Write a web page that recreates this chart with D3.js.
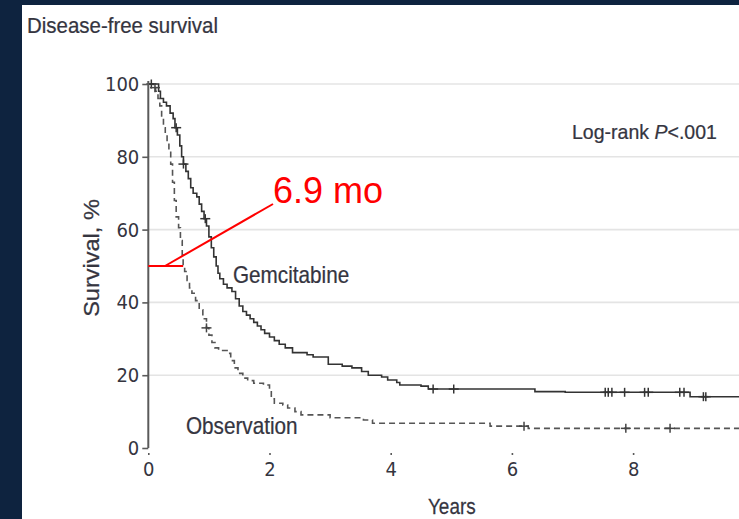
<!DOCTYPE html>
<html>
<head>
<meta charset="utf-8">
<script src="https://cdn.jsdelivr.net/npm/d3@7"></script>
<style>
  html, body { margin: 0; padding: 0; background: #0e233f; }
  svg { display: block; }
</style>
</head>
<body>
<svg id="chart" width="739" height="519"></svg>
<script>
// Kaplan-Meier disease-free survival, gemcitabine vs observation
const gemTimes = [0, 0.17, 0.2, 0.25, 0.3, 0.36, 0.41, 0.44, 0.48, 0.52, 0.55, 0.58, 0.62, 0.66, 0.7, 0.74, 0.8, 0.84, 0.88, 0.92, 0.96, 1.0, 1.04, 1.08, 1.12, 1.15, 1.18, 1.24, 1.3, 1.38, 1.44, 1.5, 1.56, 1.62, 1.68, 1.74, 1.8, 1.86, 1.92, 2.0, 2.08, 2.16, 2.26, 2.38, 2.62, 2.72, 2.97, 3.2, 3.36, 3.52, 3.63, 3.85, 3.95, 4.1, 4.15, 4.5, 4.62, 6.38, 6.88, 8.94];
const gemSurv  = [100, 98, 96, 95, 94, 92, 90.5, 88, 86, 83, 80, 78, 76, 74, 71.5, 70, 69, 67, 65, 63, 61, 58, 55, 52.5, 50, 48, 46.5, 45, 44, 43, 41, 39, 37.5, 36.5, 35.5, 34.5, 33.5, 32.5, 31.5, 30.5, 29.5, 28.5, 27.5, 26.2, 25.6, 25, 23, 22.5, 22, 21, 20, 19.5, 18.7, 18, 17.3, 17, 16.2, 15.5, 15.3, 14.1];
const gemCensored = [0.05, 0.46, 0.58, 0.94, 4.70, 5.04, 7.54, 7.59, 7.65, 7.86, 8.19, 8.25, 8.77, 8.84, 9.16, 9.20];

const obsTimes = [0, 0.08, 0.12, 0.16, 0.19, 0.22, 0.25, 0.28, 0.31, 0.34, 0.37, 0.4, 0.43, 0.46, 0.5, 0.53, 0.56, 0.575, 0.6, 0.64, 0.68, 0.72, 0.78, 0.84, 0.9, 0.96, 1.0, 1.05, 1.1, 1.16, 1.3, 1.36, 1.42, 1.48, 1.56, 1.64, 1.74, 1.9, 2.0, 2.03, 2.08, 2.22, 2.3, 2.42, 2.52, 3.0, 3.55, 3.7, 5.64, 6.27];
const obsSurv  = [100, 99, 98, 96, 94, 91, 88, 86, 84, 82, 78, 73, 68, 63.5, 60.5, 57, 53, 50, 48.5, 46, 44, 42.5, 40.5, 38, 35.5, 33, 31, 29, 27.5, 26.8, 26, 24, 22, 20.5, 19.2, 18.5, 17.8, 17.3, 16, 13.5, 12.3, 11.8, 11, 10, 9.1, 8.3, 7.7, 6.8, 6.0, 5.4];
const obsCensored = [0.11, 0.96, 6.2, 7.88, 8.61];

const xTicks = [0, 2, 4, 6, 8];
const yTicks = [0, 20, 40, 60, 80, 100];
const medianObsYears = 6.9 / 12;   // 6.9 months
const medianLabel = "6.9 mo";

const svg = d3.select("#chart");
const W = 739, H = 519;
const textColor = "#35353f";
const sans = "'Liberation Sans', Arial, sans-serif";
const cond = "'DejaVu Sans Condensed', 'DejaVu Sans', sans-serif";

// white panel
svg.append("rect").attr("x", 22).attr("y", 5).attr("width", W - 22).attr("height", H - 5).attr("fill", "#ffffff");

const x = d3.scaleLinear().domain([0, 10]).range([148.3, 754.3]);
const y = d3.scaleLinear().domain([0, 100]).range([448, 84]);

svg.append("defs").append("clipPath").attr("id", "panel")
  .append("rect").attr("x", 22).attr("y", 5).attr("width", W - 22).attr("height", H - 5);

const g = svg.append("g").attr("clip-path", "url(#panel)");

// horizontal gridlines
g.selectAll("line.grid").data(yTicks.filter(d => d > 0)).enter().append("line")
  .attr("class", "grid")
  .attr("x1", x(0)).attr("x2", W)
  .attr("y1", d => y(d)).attr("y2", d => y(d))
  .attr("stroke", "#e4e4e4").attr("stroke-width", 1.6);

// axes
const yAxis = d3.axisLeft(y).tickValues(yTicks).tickSize(6).tickPadding(3).tickFormat(d3.format("d"));
const yG = svg.append("g").attr("transform", `translate(${x(0)},0)`).call(yAxis);
yG.select(".domain").attr("d", `M0,${y(100) - 3}V${y(0)}`);

const xAxis = d3.axisBottom(x).tickValues(xTicks).tickSize(7).tickPadding(7).tickFormat(d3.format("d"));
const xG = svg.append("g").attr("transform", `translate(0,${y(0)})`).attr("clip-path", "url(#panel)").call(xAxis);
xG.select(".domain").attr("d", `M${x(0) - 6},0H${W}`);

[yG, xG].forEach(a => {
  a.select(".domain").attr("stroke", "#5a5a5a").attr("stroke-width", 2);
  a.selectAll(".tick line").attr("stroke", "#5a5a5a").attr("stroke-width", 1.6);
  a.selectAll(".tick text").attr("fill", textColor).attr("font-family", cond).attr("font-size", 20);
});

// survival curves
const line = d3.line().x(d => x(d[0])).y(d => y(d[1])).curve(d3.curveStepAfter);
const gemData = gemTimes.map((t, i) => [t, gemSurv[i]]).concat([[10, gemSurv[gemSurv.length - 1]]]);
const obsData = obsTimes.map((t, i) => [t, obsSurv[i]]).concat([[10, obsSurv[obsSurv.length - 1]]]);

g.append("path").datum(obsData).attr("d", line)
  .attr("fill", "none").attr("stroke", "#555555").attr("stroke-width", 1.6)
  .attr("stroke-dasharray", "6,4");
g.append("path").datum(gemData).attr("d", line)
  .attr("fill", "none").attr("stroke", "#333333").attr("stroke-width", 1.6);

// censor marks
function survAt(times, surv, t) {
  let v = surv[0];
  for (let i = 0; i < times.length; i++) if (times[i] <= t) v = surv[i];
  return v;
}
function censor(times, surv, cens, color) {
  const m = g.append("g").attr("stroke", color).attr("stroke-width", 1.5);
  cens.forEach(t => {
    const cx = x(t), cy = y(survAt(times, surv, t));
    m.append("line").attr("x1", cx).attr("x2", cx).attr("y1", cy - 4.5).attr("y2", cy + 4.5);
    m.append("line").attr("x1", cx - 5).attr("x2", cx + 5).attr("y1", cy).attr("y2", cy);
  });
}
censor(gemTimes, gemSurv, gemCensored, "#333333");
censor(obsTimes, obsSurv, obsCensored, "#444444");

// condensed text: regular face squeezed horizontally
function label(x0, y0, size, sx, rotate) {
  const tf = rotate
    ? `translate(${x0},${y0}) rotate(-90) scale(${sx},1)`
    : `translate(${x0},${y0}) scale(${sx},1)`;
  return svg.append("text").attr("transform", tf)
    .attr("text-anchor", rotate ? "middle" : "start")
    .attr("font-family", sans).attr("font-size", size).attr("fill", textColor)
    .attr("stroke", textColor).attr("stroke-width", 0.25);
}
label(27, 33, 22, 0.93).text("Disease-free survival");
label(428, 514, 22, 0.86).text("Years");
label(99, 258, 22, 1.07, true).text("Survival, %");
label(233, 283, 23, 0.9).text("Gemcitabine");
label(186, 434, 23, 0.9).text("Observation");
const lr = label(572, 139, 21, 0.93);
lr.append("tspan").text("Log-rank ");
lr.append("tspan").attr("font-style", "italic").text("P");
lr.append("tspan").text("<.001");

// median annotation
const red = "#ff0000";
svg.append("line").attr("x1", x(0)).attr("x2", x(medianObsYears)).attr("y1", y(50)).attr("y2", y(50))
  .attr("stroke", red).attr("stroke-width", 2);
svg.append("line").attr("x1", 165).attr("y1", y(50)).attr("x2", 273).attr("y2", 204)
  .attr("stroke", red).attr("stroke-width", 2);
svg.append("text").attr("x", 273).attr("y", 203).attr("font-family", sans)
  .attr("font-size", 36).attr("fill", red).text(medianLabel);
</script>
</body>
</html>
